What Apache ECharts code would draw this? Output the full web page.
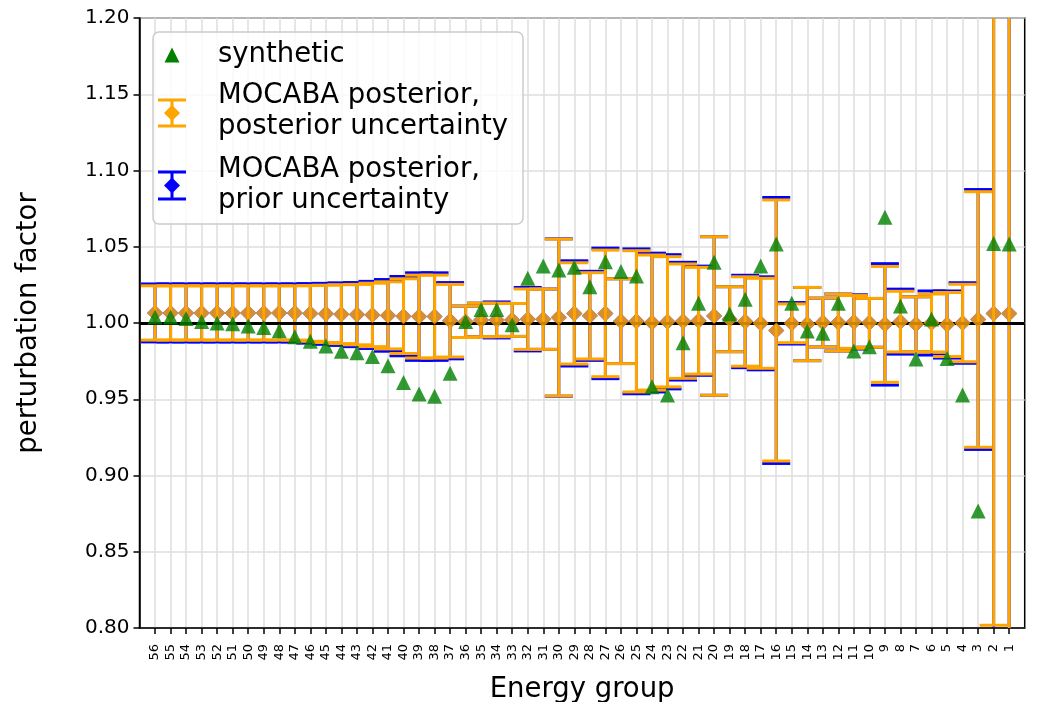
<!DOCTYPE html>
<html>
<head>
<meta charset="utf-8">
<script src="https://cdn.jsdelivr.net/npm/echarts@6/dist/echarts.min.js"></script>
<style>
  html, body { margin: 0; padding: 0; background: #ffffff; }
  #chart { width: 1043px; height: 702px; }
</style>
</head>
<body>
<div id="chart"></div>
<script>
// Energy groups, plotted from high (56) to low (1)
const groups = [56, 55, 54, 53, 52, 51, 50, 49, 48, 47, 46, 45, 44, 43, 42, 41, 40, 39, 38, 37,
                36, 35, 34, 33, 32, 31, 30, 29, 28, 27, 26, 25, 24, 23, 22, 21, 20, 19, 18, 17,
                16, 15, 14, 13, 12, 11, 10, 9, 8, 7, 6, 5, 4, 3, 2, 1];

// Synthetic perturbation factors
const synthetic = [1.004, 1.004, 1.003, 1.001, 1.000, 0.9995, 0.998, 0.997, 0.995, 0.991,
                   0.988, 0.985, 0.9815, 0.9805, 0.978, 0.972, 0.961, 0.9535, 0.952, 0.967,
                   1.001, 1.0088, 1.0088, 0.9988, 1.0293, 1.0374, 1.0348, 1.0365, 1.0238, 1.0402,
                   1.0337, 1.0308, 0.9582, 0.9528, 0.9871, 1.0129, 1.0398, 1.0059, 1.0155, 1.0374,
                   1.0518, 1.0129, 0.9948, 0.9932, 1.0129, 0.9816, 0.9845, 1.0693, 1.0111, 0.9764,
                   1.0026, 0.9768, 0.9528, 0.8767, 1.0522, 1.0518];

// MOCABA posterior values
const posterior = [1.0066, 1.0066, 1.0066, 1.0066, 1.0066, 1.0066, 1.0066, 1.0066, 1.0066, 1.0066,
                   1.0063, 1.006, 1.0058, 1.0055, 1.0053, 1.005, 1.0045, 1.0042, 1.0042, 1.0015,
                   1.0008, 1.002, 1.002, 1.002, 1.0025, 1.0025, 1.0036, 1.0063, 1.0047, 1.0063,
                   1.0012, 1.0011, 1.0003, 1.0008, 1.0012, 1.0015, 1.0046, 1.0025, 1.001, 0.9998,
                   0.9951, 0.9998, 0.9993, 1.0003, 1.0003, 1.0007, 1.0001, 0.9991, 1.0009, 0.9992,
                   1.0, 0.999, 1.0, 1.0023, 1.0063, 1.0063];

// Posterior uncertainty (1 sigma)
const posteriorUnc = [0.0178, 0.0178, 0.0178, 0.0178, 0.0178, 0.0178, 0.0178, 0.0178, 0.0178, 0.0178,
                      0.0183, 0.0188, 0.0193, 0.0198, 0.0208, 0.022, 0.0245, 0.0272, 0.0272, 0.0238,
                      0.0103, 0.011, 0.011, 0.0108, 0.0198, 0.0198, 0.0514, 0.0332, 0.0283, 0.0415,
                      0.0278, 0.0463, 0.0443, 0.0427, 0.0375, 0.035, 0.052, 0.0213, 0.0293, 0.0295,
                      0.0856, 0.0127, 0.024, 0.016, 0.0187, 0.0173, 0.016, 0.038, 0.0199, 0.018,
                      0.019, 0.021, 0.0254, 0.0838, 0.2045, 0.30];

// Prior uncertainty (1 sigma)
const priorUnc = [0.019, 0.019, 0.019, 0.019, 0.019, 0.019, 0.019, 0.019, 0.019, 0.019,
                  0.0195, 0.020, 0.0205, 0.021, 0.022, 0.0235, 0.026, 0.0287, 0.0287, 0.025,
                  0.0103, 0.011, 0.0118, 0.0108, 0.0208, 0.0198, 0.0516, 0.0345, 0.0292, 0.0428,
                  0.0278, 0.0475, 0.0455, 0.044, 0.0386, 0.0358, 0.052, 0.0213, 0.0303, 0.0305,
                  0.0872, 0.0136, 0.024, 0.016, 0.0187, 0.0178, 0.016, 0.0398, 0.0213, 0.018,
                  0.021, 0.022, 0.0264, 0.0852, 0.2075, 0.31];

const yTickMin = 0.80, yTickMax = 1.20, yTickStep = 0.05;

const FONT = 'DejaVu Sans';
const ORANGE = '#ffa500', BLUE = '#0000ff', GREEN = '#008000';

// one empty slot on each side of the groups gives the axis some room
const padLeft = 1;
const categories = [''].concat(groups.map(String), ['']);
const pos = i => i + padLeft;
const visibleSlot = (index, value) => value !== '';

function errorBars(color, lineWidth, capHalf) {
  return function (params, api) {
    const x = api.value(0), c = api.value(1), e = api.value(2);
    const top = api.coord([x, c + e]);
    const bot = api.coord([x, c - e]);
    const style = { stroke: color, lineWidth: lineWidth };
    return {
      type: 'group',
      children: [
        { type: 'line', shape: { x1: top[0], y1: top[1], x2: bot[0], y2: bot[1] }, style },
        { type: 'line', shape: { x1: top[0] - capHalf, y1: top[1], x2: top[0] + capHalf, y2: top[1] }, style },
        { type: 'line', shape: { x1: bot[0] - capHalf, y1: bot[1], x2: bot[0] + capHalf, y2: bot[1] }, style }
      ]
    };
  };
}

const priorBars = groups.map((g, i) => [pos(i), posterior[i], priorUnc[i]]);
const postBars = groups.map((g, i) => [pos(i), posterior[i], posteriorUnc[i]]);
const postPoints = groups.map((g, i) => [pos(i), posterior[i]]);
const synthPoints = groups.map((g, i) => [pos(i), synthetic[i]]);

const chart = echarts.init(document.getElementById('chart'), null, { renderer: 'canvas' });

// legend drawn as a framed box with errorbar glyphs
const legendX = 172;
function legendBar(color, yTop, yBot) {
  const s = { stroke: color, lineWidth: 3 };
  const yc = (yTop + yBot) / 2;
  return [
    { type: 'line', shape: { x1: legendX, y1: yTop, x2: legendX, y2: yBot }, style: s, z: 101 },
    { type: 'line', shape: { x1: legendX - 14, y1: yTop, x2: legendX + 14, y2: yTop }, style: s, z: 101 },
    { type: 'line', shape: { x1: legendX - 14, y1: yBot, x2: legendX + 14, y2: yBot }, style: s, z: 101 },
    { type: 'polygon', shape: { points: [[legendX, yc - 8], [legendX + 8, yc], [legendX, yc + 8], [legendX - 8, yc]] },
      style: { fill: color }, z: 102 }
  ];
}
const legendText = (x, y, t) => ({
  type: 'text', x: x, y: y, z: 102,
  style: { text: t, fill: '#000', font: '27.5px "DejaVu Sans"', textVerticalAlign: 'middle' }
});

const option = {
  animation: false,
  backgroundColor: '#ffffff',
  grid: {
    left: 139.5, top: 18, width: 885.2, height: 610,
    outerBoundsMode: 'none',
    show: true, borderColor: '#000', borderWidth: 1.5, backgroundColor: 'transparent'
  },
  xAxis: {
    type: 'category',
    data: categories,
    boundaryGap: false,
    name: 'Energy group',
    nameLocation: 'middle',
    nameGap: 48,
    nameTextStyle: { fontFamily: FONT, fontSize: 27.5, color: '#000' },
    axisLine: { show: true, lineStyle: { color: '#000', width: 1.5 } },
    axisTick: { show: true, length: 6, interval: visibleSlot, lineStyle: { color: '#000', width: 1.5 } },
    axisLabel: { interval: visibleSlot, rotate: 90, fontFamily: FONT, fontSize: 13, color: '#000', margin: 16 },
    splitLine: { show: true, interval: visibleSlot, lineStyle: { color: '#dedede', width: 1.5 } }
  },
  yAxis: {
    type: 'value',
    min: yTickMin, max: yTickMax, interval: yTickStep,
    name: 'perturbation factor',
    nameLocation: 'middle',
    nameGap: 97,
    nameTextStyle: { fontFamily: FONT, fontSize: 27.5, color: '#000' },
    axisLine: { show: true, lineStyle: { color: '#000', width: 1.5 } },
    axisTick: { show: true, length: 6, lineStyle: { color: '#000', width: 1.5 } },
    axisLabel: { fontFamily: FONT, fontSize: 20, color: '#000', margin: 10, formatter: v => v.toFixed(2) },
    splitLine: { show: true, lineStyle: { color: '#dedede', width: 1.5 } }
  },
  series: [
    {
      name: 'unity', type: 'line', data: [], z: 1,
      markLine: {
        silent: true, symbol: 'none', label: { show: false },
        lineStyle: { color: '#000', width: 3, type: 'solid' },
        data: [{ yAxis: 1.0 }]
      }
    },
    {
      name: 'MOCABA posterior, prior uncertainty', type: 'custom', z: 2, clip: true,
      renderItem: errorBars(BLUE, 3, 14), encode: { x: 0, y: 1 }, data: priorBars
    },
    {
      name: 'prior marker', type: 'scatter', z: 3, symbol: 'diamond', symbolSize: 16,
      itemStyle: { color: BLUE }, data: postPoints
    },
    {
      name: 'MOCABA posterior, posterior uncertainty', type: 'custom', z: 4, clip: true,
      renderItem: errorBars(ORANGE, 3, 14), encode: { x: 0, y: 1 }, data: postBars
    },
    {
      name: 'posterior marker', type: 'scatter', z: 5, symbol: 'diamond', symbolSize: 16,
      itemStyle: { color: ORANGE }, data: postPoints
    },
    {
      name: 'synthetic', type: 'scatter', z: 6, symbol: 'triangle', symbolSize: 15,
      itemStyle: { color: GREEN }, data: synthPoints
    }
  ],
  graphic: [
    { type: 'rect', shape: { x: 153, y: 32, width: 370, height: 192, r: 6 },
      style: { fill: 'rgba(255,255,255,0.8)', stroke: '#cccccc', lineWidth: 1.5 }, z: 100 },
    { type: 'polygon', shape: { points: [[legendX, 47.5], [legendX + 7.5, 62.5], [legendX - 7.5, 62.5]] },
      style: { fill: GREEN }, z: 102 },
    legendText(218, 55, 'synthetic'),
    ...legendBar(ORANGE, 100, 126),
    legendText(218, 96, 'MOCABA posterior,'),
    legendText(218, 127, 'posterior uncertainty'),
    ...legendBar(BLUE, 172, 199),
    legendText(218, 170, 'MOCABA posterior,'),
    legendText(218, 201, 'prior uncertainty')
  ]
};

chart.setOption(option);
</script>
</body>
</html>
